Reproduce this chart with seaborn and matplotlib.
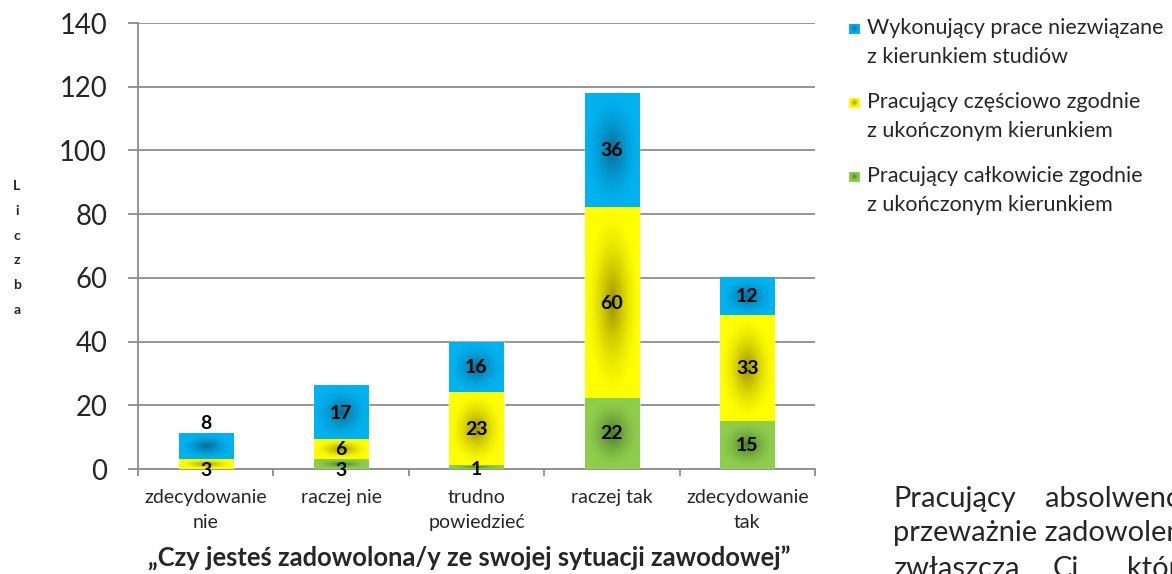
import numpy as np
import pandas as pd
import matplotlib
matplotlib.use("Agg")
import matplotlib.pyplot as plt
from matplotlib.colors import to_rgb
import seaborn as sns

# ---- data ----
categories = ["zdecydowanie\nnie", "raczej nie", "trudno\npowiedzieć", "raczej tak", "zdecydowanie\ntak"]
full_match = [0, 3, 1, 22, 15]        # Pracujący całkowicie zgodnie
partial_match = [3, 6, 23, 60, 33]    # Pracujący częściowo zgodnie
unrelated = [8, 17, 16, 36, 12]       # Wykonujący prace niezwiązane

series_names = [
    "Pracujący całkowicie zgodnie\nz ukończonym kierunkiem",
    "Pracujący częściowo zgodnie\nz ukończonym kierunkiem",
    "Wykonujący prace niezwiązane\nz kierunkiem studiów",
]
y_ticks = [0, 20, 40, 60, 80, 100, 120, 140]
x_title = "„Czy jesteś zadowolona/y ze swojej sytuacji zawodowej”"
y_title = "Liczba"
side_lines = [["Pracujący", "absolwenci"], ["przeważnie zadowoleni"], ["zwłaszcza", "Ci", "którzy"]]

# ---- style ----
FONT = "Lato"
PT = 0.72  # points per pixel at 100 dpi
edge_cols = ["#8FCE4C", "#FFFF00", "#00B2F0"]
center_cols = ["#4A7A28", "#9C9000", "#0A6A94"]
grid_col = "#8C8C8C"

sns.set_theme(style="white")
plt.rcParams["font.family"] = [FONT, "DejaVu Sans"]

fig = plt.figure(figsize=(11.72, 5.74), dpi=100)
W, H = 1172, 574
ax = fig.add_axes([138 / W, 1 - 469 / H, (815 - 138) / W, (469 - 23) / H])

layers = [full_match, partial_match, unrelated]
df = pd.DataFrame({"kategoria": categories})
cum = np.zeros(len(categories))
bottoms, tops = [], []
for vals in layers:
    bottoms.append(cum.copy())
    cum = cum + np.array(vals, dtype=float)
    tops.append(cum.copy())

# stacked bars: draw cumulative totals from the tallest layer down
bar_containers = []
for i in reversed(range(len(layers))):
    df["top"] = tops[i]
    n_before = len(ax.patches)
    sns.barplot(data=df, x="kategoria", y="top", color=edge_cols[i], saturation=1,
                width=0.4, ax=ax, errorbar=None, zorder=2)
    bar_containers.append((i, ax.patches[n_before:]))


def gradient_image(edge, center, n=80):
    gx = np.linspace(-1, 1, n)
    X, Y = np.meshgrid(gx, gx)
    w = (1 - np.clip(np.sqrt(X ** 2 + Y ** 2), 0, 1)) ** 1.6
    e = np.array(to_rgb(edge))
    c = np.array(to_rgb(center))
    return e[None, None, :] * (1 - w[..., None]) + c[None, None, :] * w[..., None]


for i, patches in bar_containers:
    for j, p in enumerate(patches):
        y0, y1 = bottoms[i][j], tops[i][j]
        if y1 - y0 <= 0:
            continue
        ax.imshow(gradient_image(edge_cols[i], center_cols[i]),
                  extent=(p.get_x(), p.get_x() + p.get_width(), y0, y1),
                  aspect="auto", zorder=3, interpolation="bilinear", origin="lower")

# value labels (a few small segments sit slightly off-centre)
label_shift = {(0, 1): -6, (0, 2): None, (1, 0): -6, (2, 0): -2}
LBL = 19.5 * PT
for i, vals in enumerate(layers):
    for j, v in enumerate(vals):
        if v == 0:
            continue
        yc = (bottoms[i][j] + tops[i][j]) / 2
        dy = label_shift.get((j, i), 0)
        if dy is None:  # above the bar
            ax.annotate(f"{v}", (j, tops[i][j]), xytext=(0, 10 * PT), textcoords="offset points",
                        ha="center", va="center", fontsize=LBL, fontweight="bold",
                        color="black", zorder=5)
        else:
            ax.annotate(f"{v}", (j, yc), xytext=(0, dy * PT), textcoords="offset points",
                        ha="center", va="center", fontsize=LBL, fontweight="bold",
                        color="black", zorder=5)

ax.set_xlim(-0.5, len(categories) - 0.5)
ax.set_ylim(0, 140)
ax.set_yticks(y_ticks)
ax.yaxis.grid(True, color=grid_col, linewidth=1.3, zorder=0)
ax.set_axisbelow(True)
for s in ["top", "right"]:
    ax.spines[s].set_visible(False)
for s in ["left", "bottom"]:
    ax.spines[s].set_color(grid_col)
    ax.spines[s].set_linewidth(1.3)

ax.tick_params(axis="y", which="major", length=10 * PT, width=1.3, color=grid_col,
               labelsize=27.5 * PT, pad=15, left=True)
ax.set_xticks(range(len(categories)))
ax.set_xticklabels(categories, fontsize=19.5 * PT, linespacing=1.53)
ax.tick_params(axis="x", which="major", length=0, pad=14.5)
ax.set_xticks(np.arange(-0.5, len(categories), 1.0), minor=True)
ax.tick_params(axis="x", which="minor", length=7 * PT, width=1.3, color=grid_col, bottom=True)
ax.set_xlabel("")
ax.set_ylabel("")

# stacked-letter axis title
fig.text(17 / W, 1 - 248 / H, "\n".join(y_title), ha="center", va="center",
         fontsize=14 * PT, fontweight="bold", linespacing=2.29)

fig.text(469 / W, 1 - 558 / H, x_title, ha="center", va="center",
         fontsize=25.5 * PT, fontweight="bold")

# legend (top to bottom: unrelated, partial, full)
for k, i in enumerate([2, 1, 0]):
    ytop = 28 + 74 * k
    lax = fig.add_axes([849 / W, 1 - (ytop + 6.5) / H, 11 / W, 11 / H])
    lax.set_axis_off()
    lax.imshow(gradient_image(edge_cols[i], center_cols[i], n=20), aspect="auto",
               interpolation="bilinear")
    first, second = series_names[i].split("\n")
    fig.text(867 / W, 1 - ytop / H, first, ha="left", va="center", fontsize=21.5 * PT)
    fig.text(867 / W, 1 - (ytop + 29) / H, second, ha="left", va="center", fontsize=21.5 * PT)

# neighbouring paragraph text (runs past the right and bottom edges)
word_x = [[893, 1045], [893], [893, 1053, 1127]]
line_base = [507, 541, 577]
for words, xs, y in zip(side_lines, word_x, line_base):
    for wtxt, x in zip(words, xs):
        fig.text(x / W, 1 - y / H, wtxt, ha="left", va="baseline", fontsize=29 * PT)

fig.savefig("out.png", dpi=100)
